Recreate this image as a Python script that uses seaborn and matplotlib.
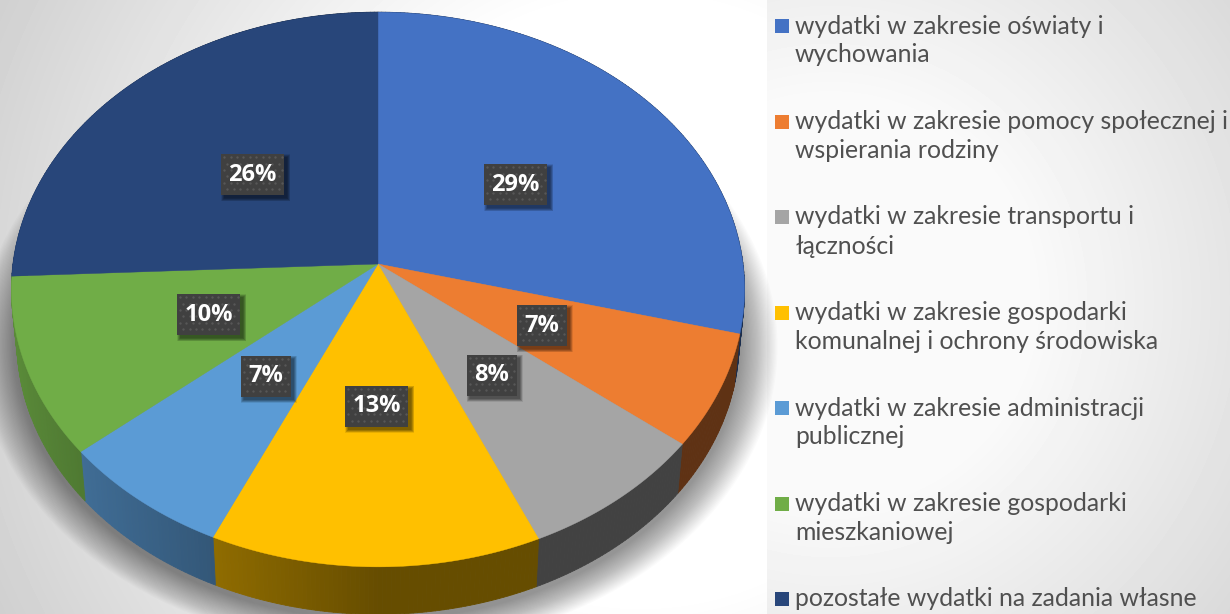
# 3D style pie of budget spending shares with legend on the right
import numpy as np
import matplotlib
matplotlib.use('Agg')
import matplotlib.pyplot as plt
from matplotlib.patches import Polygon, Rectangle
from matplotlib.collections import PolyCollection
import seaborn as sns

categories = [
    'wydatki w zakresie oświaty i\nwychowania',
    'wydatki w zakresie pomocy społecznej i\nwspierania rodziny',
    'wydatki w zakresie transportu i\nłączności',
    'wydatki w zakresie gospodarki\nkomunalnej i ochrony środowiska',
    'wydatki w zakresie administracji\npublicznej',
    'wydatki w zakresie gospodarki\nmieszkaniowej',
    'pozostałe wydatki na zadania własne',
]
# shares read from the slice boundaries, labels show them rounded
shares = [29.0, 6.6, 7.8, 13.4, 7.1, 10.4, 25.7]
slice_colors = ['#4472C4', '#ED7D31', '#A5A5A5', '#FFC000', '#5B9BD5', '#70AD47', '#28467A']

# perspective of the disc, in pixels
CX, CY = 378, 264
RX, RY, TILT = 365, 275, 0.092
DEPTH = 52
W, H = 1230, 614


def project(theta, r=1.0, scale=1.0, dy=0.0):
    """Map a clockwise angle from 12 o'clock to picture coordinates."""
    u = r * np.sin(theta)
    v = -r * np.cos(theta)
    d = 1 - TILT * v
    return CX + scale * RX * u / d, CY + dy + scale * RY * v / d


def side_shade(x):
    return np.interp(x, [12, 82, 215, 378, 745], [0.8, 0.7, 0.56, 0.4, 0.4])


sns.set_theme(style='white')
palette = sns.color_palette(slice_colors)

fig = plt.figure(figsize=(W / 100, H / 100), dpi=100)
ax = fig.add_axes([0, 0, 1, 1])
ax.set_xlim(0, W)
ax.set_ylim(H, 0)
ax.axis('off')

# backgrounds: pale vignette behind the pie, separate panel for the legend
yy, xx = np.mgrid[0:H, 0:W]
left_bg = 255 - np.maximum(0, np.hypot(xx - 640, yy - 300) - 300) * 0.115
right_bg = 250 - np.maximum(0, np.hypot(xx - 830, yy - 300) - 200) * 0.105
bg = np.where(xx < 767, left_bg, right_bg)
ax.imshow(bg, cmap='gray', vmin=0, vmax=255, extent=(0, W, H, 0), aspect='auto', zorder=0)

# soft shadow under the disc
ring = np.linspace(0, 2 * np.pi, 360)
for s in np.linspace(1.09, 0.99, 30):
    sx, sy = project(ring, scale=s, dy=56 - 10 * (s - 1))
    ax.add_patch(Polygon(np.column_stack([sx, sy]), closed=True, fc='black', ec='none',
                         alpha=0.016, zorder=1))

# side wall and top face
bounds = np.cumsum([0] + shares) / sum(shares) * 2 * np.pi
for start, end, color in zip(bounds[:-1], bounds[1:], palette):
    n = max(int((end - start) * 90), 4)
    angles = np.linspace(start, end, n + 1)
    tx, ty = project(angles)
    bx, by = project(angles, scale=0.985, dy=DEPTH)
    quads, quad_colors = [], []
    for i in range(n):
        quads.append([(tx[i], ty[i]), (tx[i + 1], ty[i + 1]), (bx[i + 1], by[i + 1]), (bx[i], by[i])])
        quad_colors.append(tuple(np.array(color) * side_shade((tx[i] + tx[i + 1]) / 2)))
    ax.add_collection(PolyCollection(quads, facecolors=quad_colors, edgecolors=quad_colors,
                                     linewidths=0.6, zorder=2))

for start, end, color in zip(bounds[:-1], bounds[1:], palette):
    angles = np.linspace(start, end, 120)
    tx, ty = project(angles)
    pts = np.column_stack([np.r_[CX, tx], np.r_[CY, ty]])
    ax.add_patch(Polygon(pts, closed=True, fc=color, ec=color, lw=0.3, zorder=3))

# percent labels on dark dotted boxes
for start, end, share in zip(bounds[:-1], bounds[1:], shares):
    lx, ly = project((start + end) / 2, r=0.49)
    ly += 1
    text = f'{share:.0f}%'
    bw, bh = 24 + 13 * len(text), 41
    x0, y0 = lx - bw / 2, ly - bh / 2
    for grow in np.linspace(6, 0, 7):
        ax.add_patch(Rectangle((x0 + 3 - grow / 2, y0 + 3 - grow / 2), bw + grow, bh + grow,
                               fc='black', ec='none', alpha=0.09, zorder=4))
    ax.add_patch(Rectangle((x0, y0), bw, bh, fc='#404040', ec='none', zorder=5))
    dx, dy = [], []
    for row, py in enumerate(np.arange(y0 + 3, y0 + bh, 6.4)):
        for px in np.arange(x0 + 3 + (row % 2) * 3.2, x0 + bw - 1, 6.4):
            dx.append(px)
            dy.append(py)
    ax.scatter(dx, dy, s=3, color='#575757', linewidths=0, zorder=6)
    ax.text(lx, ly, text, ha='center', va='center', color='white', fontsize=17,
            fontweight='bold', family='Open Sans', zorder=7)

# legend, square in front of the first line of each entry
for i, (label, color) in enumerate(zip(categories, palette)):
    y = 26 + i * 95.5
    ax.add_patch(Rectangle((775, y - 7), 14, 14, fc=color, ec='none', zorder=5))
    for j, line in enumerate(label.split('\n')):
        ax.text(795, y + j * 29, line, ha='left', va='center', color='#505050',
                fontsize=17.8, family='Lato', zorder=5)

fig.savefig('out.png', dpi=100)
